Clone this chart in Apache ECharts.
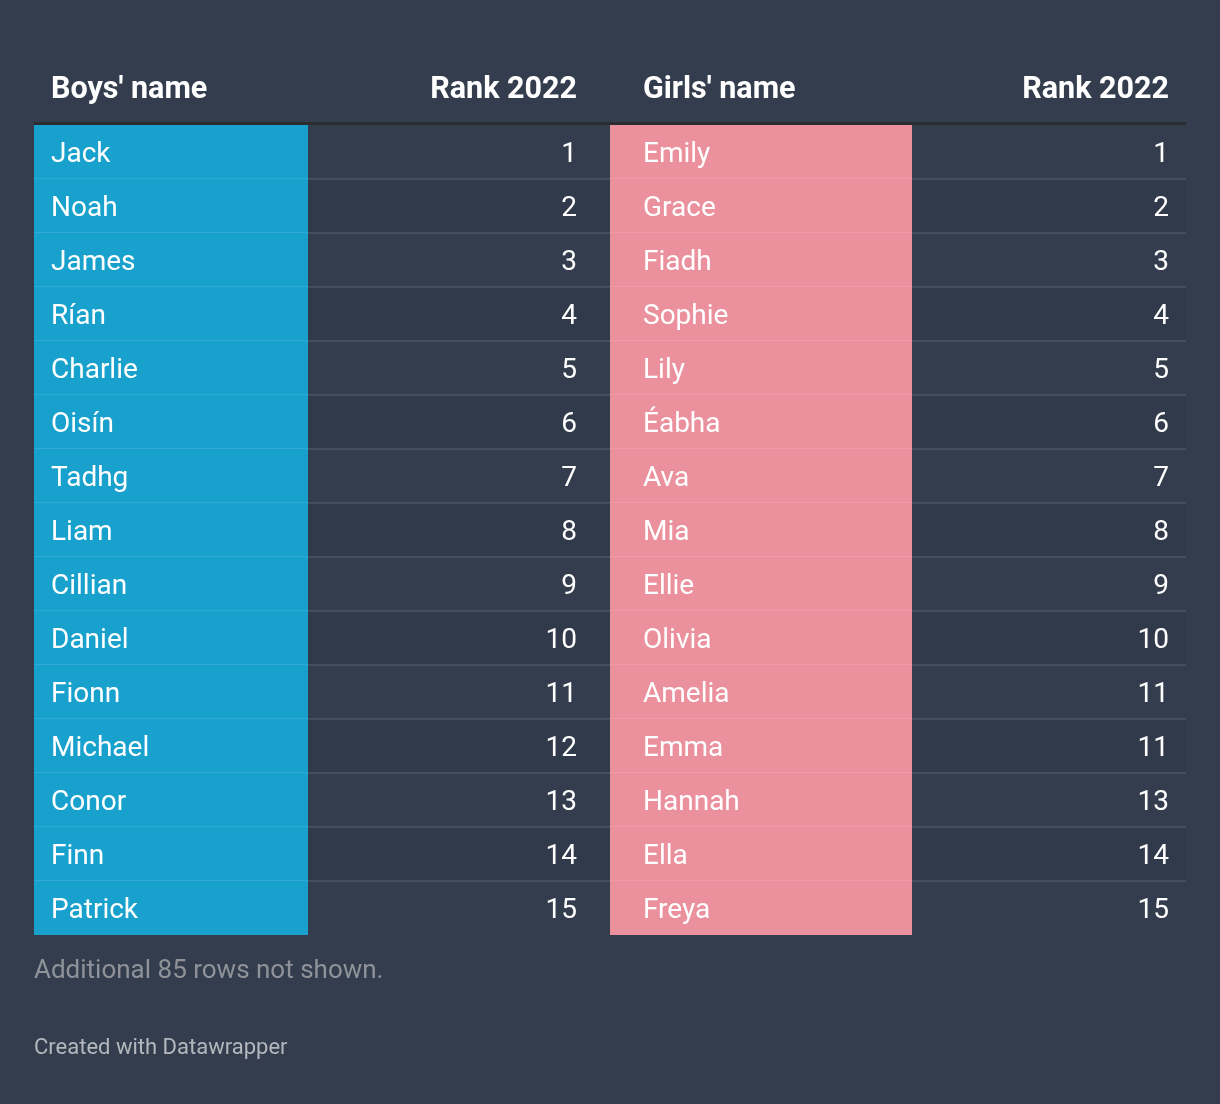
<!DOCTYPE html>
<html><head><meta charset="utf-8">
<script src="https://cdn.jsdelivr.net/npm/echarts@6/dist/echarts.min.js"></script>
<style>html,body{margin:0;padding:0;background:#343d4e}#c{width:1220px;height:1104px}</style>
</head><body><div id="c"></div>
<script>
const headers = ["Boys' name", "Rank 2022", "Girls' name", "Rank 2022"];
const boysNames = ["Jack","Noah","James","Rían","Charlie","Oisín","Tadhg","Liam","Cillian","Daniel","Fionn","Michael","Conor","Finn","Patrick"];
const boysRanks = [1,2,3,4,5,6,7,8,9,10,11,12,13,14,15];
const girlsNames = ["Emily","Grace","Fiadh","Sophie","Lily","Éabha","Ava","Mia","Ellie","Olivia","Amelia","Emma","Hannah","Ella","Freya"];
const girlsRanks = [1,2,3,4,5,6,7,8,9,10,11,11,13,14,15];
const footNote = "Additional 85 rows not shown.";
const credit = "Created with Datawrapper";

// layout (column edges in table units)
const colEdges = [0, 274, 576, 878, 1152];
const FONT = 'Roboto, "Noto Sans", sans-serif';
const BLUE = '#18a1cd', PINK = '#eb909d';

const chart = echarts.init(document.getElementById('c'), null, {renderer: 'canvas'});
const rowData = boysNames.map((_, i) => [i]);

function renderItem(params, api) {
  const i = api.value(0);
  const c = api.coord([colEdges[0], i]);
  const h = api.size([0, 1])[1];
  const X = colEdges.map(e => api.coord([e, i])[0]);
  const top = c[1] - h / 2, mid = c[1] + 3;
  const children = [];
  if (i % 2 === 1) {
    children.push({type: 'rect', shape: {x: X[0], y: top, width: X[4] - X[0], height: h}, style: {fill: 'rgba(0,0,0,0.04)'}});
  }
  children.push({type: 'rect', shape: {x: X[0], y: top, width: X[1] - X[0], height: h}, style: {fill: BLUE}});
  children.push({type: 'rect', shape: {x: X[2], y: top, width: X[3] - X[2], height: h}, style: {fill: PINK}});
  if (i < boysNames.length - 1) {
    children.push({type: 'line', shape: {x1: X[0], y1: top + h, x2: X[4], y2: top + h}, style: {stroke: 'rgba(255,255,255,0.1)', lineWidth: 2}});
  }
  const ts = (text, x, align) => ({type: 'text', style: {text: String(text), x: x, y: mid, align: align, verticalAlign: 'middle', fill: '#ffffff', fontSize: 28, fontFamily: FONT, fontWeight: 400}});
  children.push(ts(boysNames[i], X[0] + 17, 'left'));
  children.push(ts(boysRanks[i], X[2] - 33, 'right'));
  children.push(ts(girlsNames[i], X[2] + 33, 'left'));
  children.push(ts(girlsRanks[i], X[4] - 17, 'right'));
  return {type: 'group', children: children};
}

const hdr = (text, x, align) => ({type: 'text', x: x, y: 90, style: {text: text, align: align, verticalAlign: 'middle', fill: '#ffffff', fontSize: 30.5, fontWeight: 700, fontFamily: FONT}});

chart.setOption({
  backgroundColor: '#343d4e',
  animation: false,
  grid: {left: 34, right: 34, top: 125, height: 810},
  xAxis: {type: 'value', min: colEdges[0], max: colEdges[4], show: false},
  yAxis: {type: 'category', inverse: true, data: boysRanks.map(String), show: false},
  series: [{
    type: 'custom',
    renderItem: renderItem,
    data: rowData,
    encode: {y: 0},
    clip: false
  }],
  graphic: [
    hdr(headers[0], 51, 'left'),
    hdr(headers[1], 577, 'right'),
    hdr(headers[2], 643, 'left'),
    hdr(headers[3], 1169, 'right'),
    {type: 'rect', shape: {x: 34, y: 122, width: 1152, height: 3}, style: {fill: '#2b2c2f'}},
    {type: 'text', x: 34, y: 971, style: {text: footNote, verticalAlign: 'middle', fill: '#8f9399', fontSize: 26, fontFamily: FONT}},
    {type: 'text', x: 34, y: 1048, style: {text: credit, verticalAlign: 'middle', fill: '#b4b7bc', fontSize: 22, fontFamily: FONT}}
  ]
});
</script></body></html>
